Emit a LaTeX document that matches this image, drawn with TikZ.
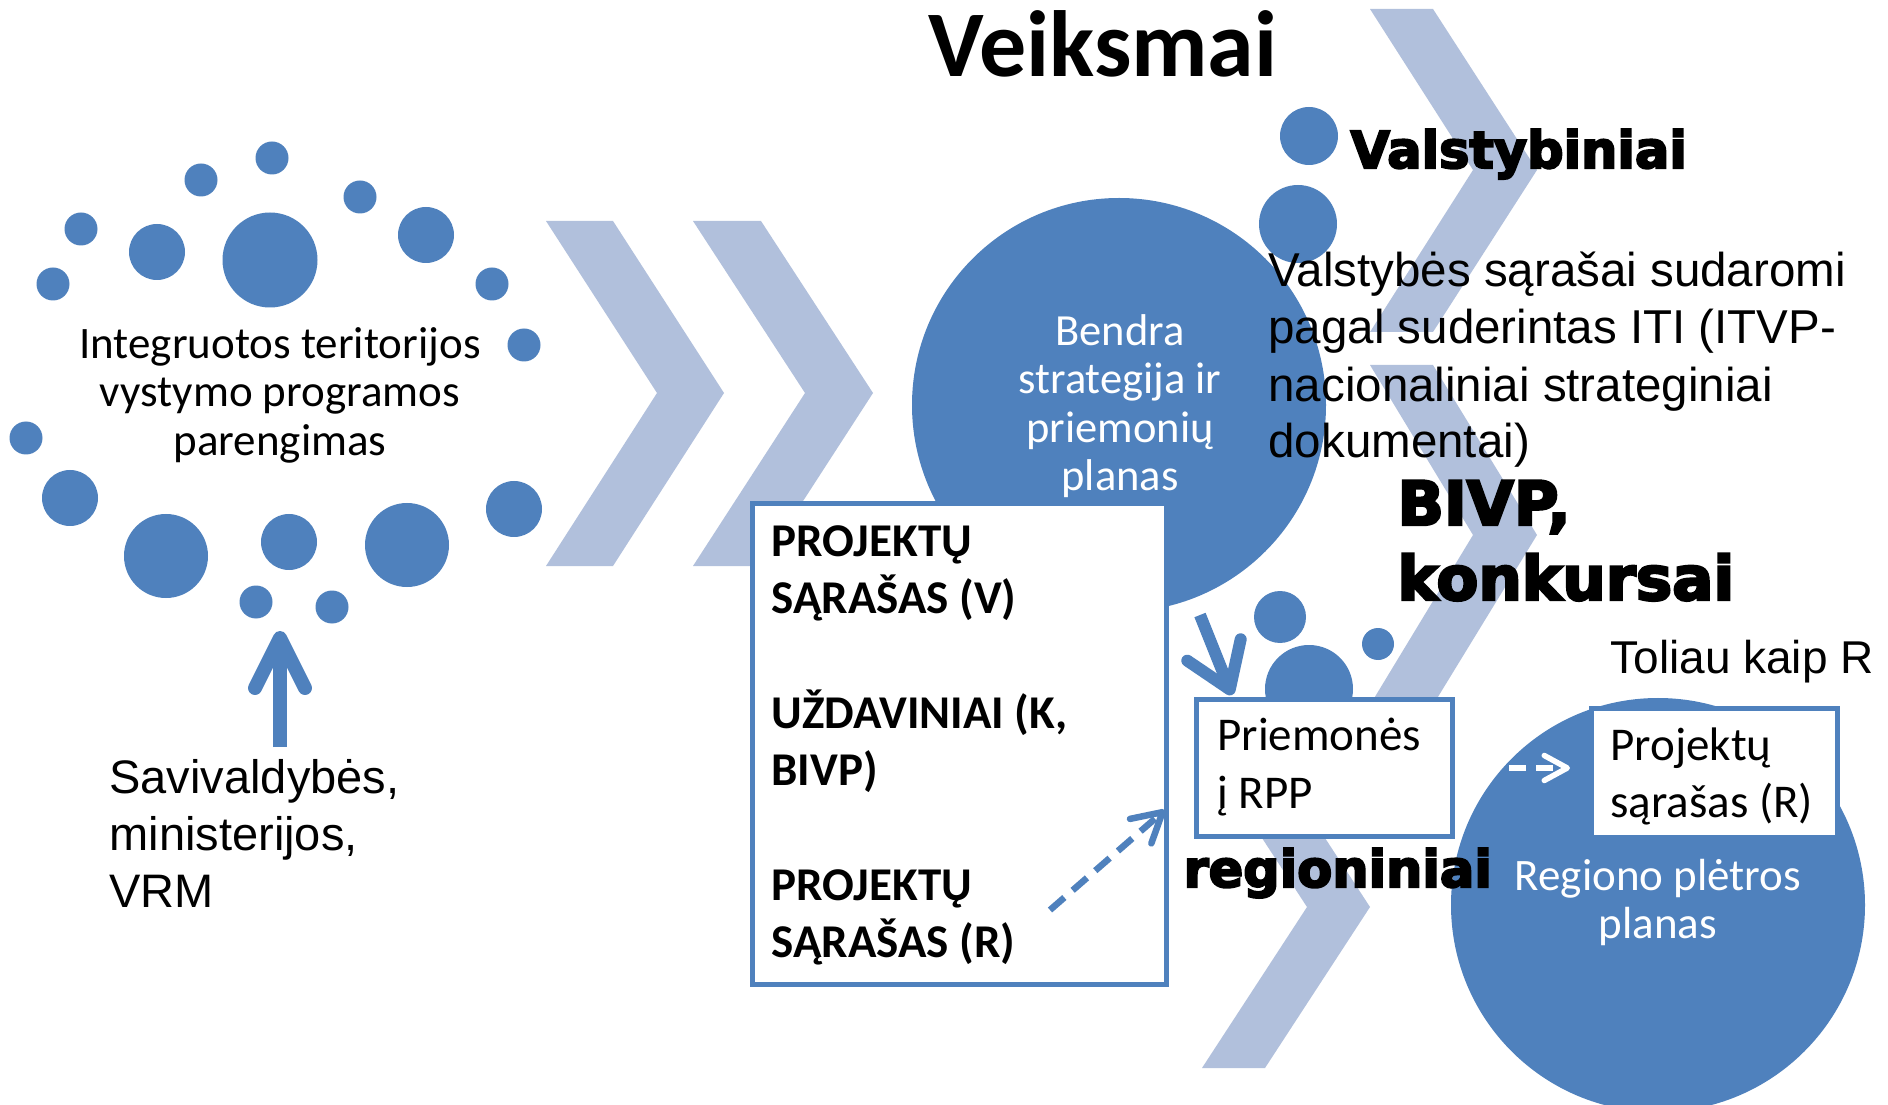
\documentclass[tikz,border=0pt]{standalone}
\usepackage{fontspec}
\setmainfont{Carlito}
\newfontfamily\cali{Carlito}
\newfontfamily\arialf{Liberation Sans}
\newfontfamily\heavyf{DejaVu Sans}[BoldFeatures={FakeBold=4}]
\usetikzlibrary{arrows.meta}
\definecolor{dotblue}{HTML}{4F81BD}
\definecolor{chevblue}{HTML}{B1C0DC}
\tikzset{
  dotfill/.style={fill=dotblue},
  chevfill/.style={fill=chevblue},
  frame/.style={draw=dotblue, line width=2pt, fill=white, inner sep=0pt},
  bigcirc/.style={circle, fill=dotblue, inner sep=0pt, minimum size=165.6pt},
  lbl/.style={inner sep=0pt, anchor=base west},
  clbl/.style={inner sep=0pt, anchor=base},
  rad/.style={radius=#1*0.4pt},
  thickarrow/.style={draw=dotblue, line width=#1},
}
\begin{document}
\begin{tikzpicture}[x=0.4pt,y=-0.4pt]
\useasboundingbox (0,0) rectangle (1888,1105);
\clip (0,0) rectangle (1888,1105);
\fill[white] (0,0) rectangle (1888,1105);

% left chevrons
\fill[chevfill] (546,221) -- (613,221) -- (724,393) -- (613,566) -- (546,566) -- (657,393) -- cycle;
\fill[chevfill] (693,221) -- (761,221) -- (873,393) -- (761,566) -- (693,566) -- (805,393) -- cycle;

% right chevrons
\fill[chevfill] (1370,9) -- (1433,9) -- (1537,170) -- (1433,332) -- (1370,332) -- (1473,170) -- cycle;
\fill[chevfill] (1370,365) -- (1433,365) -- (1537,535) -- (1433,705) -- (1370,705) -- (1473,535) -- cycle;
\fill[chevfill] (1202,746) -- (1265,746) -- (1370,907) -- (1265,1068) -- (1202,1068) -- (1307,907) -- cycle;

% dot cluster
\fill[dotfill] (270,260) circle[rad=47.5];
\fill[dotfill] (272,158) circle[rad=16.5];
\fill[dotfill] (201,180) circle[rad=16.5];
\fill[dotfill] (360,197) circle[rad=16.5];
\fill[dotfill] (426,235) circle[rad=28];
\fill[dotfill] (157,252) circle[rad=28];
\fill[dotfill] (81,229) circle[rad=16.5];
\fill[dotfill] (53,284) circle[rad=16.5];
\fill[dotfill] (492,284) circle[rad=16.5];
\fill[dotfill] (524,345) circle[rad=16.5];
\fill[dotfill] (26,438) circle[rad=16.5];
\fill[dotfill] (70,498) circle[rad=28];
\fill[dotfill] (166,556) circle[rad=42];
\fill[dotfill] (289,542) circle[rad=28];
\fill[dotfill] (407,545) circle[rad=42];
\fill[dotfill] (514,509) circle[rad=28];
\fill[dotfill] (256,602) circle[rad=16.5];
\fill[dotfill] (332,607) circle[rad=16.5];

% main circles
\node[bigcirc] (bendra) at (1119,405) {};
\node[bigcirc] (regiono) at (1658,905) {};

% dots near Valstybiniai
\fill[dotfill] (1309,136) circle[rad=29];
\fill[dotfill] (1298,224) circle[rad=39];

% person icon
\fill[dotfill] (1280,617) circle[rad=26];
\fill[dotfill] (1309,689) circle[rad=44];
\fill[dotfill] (1378,644) circle[rad=16];

% arrow from Bendra circle to Priemones box
\coordinate (bArrS) at (1200,615);
\coordinate (bArrE) at (1232,695);
\draw[thickarrow=4.8pt, -{Straight Barb[length=17pt,width=23pt,round]}] (bArrS) -- (bArrE);

% boxes
\node[frame, minimum width=165.6pt, minimum height=192pt] (plist) at (959,744) {};
\node[frame, minimum width=102.4pt, minimum height=54.8pt] (priem) at (1324.5,768) {};
\node[frame, minimum width=98.4pt, minimum height=51.6pt] (projR) at (1714.5,773) {};

% dashed arrow inside list box
\coordinate (dS) at (1050,910);
\coordinate (dE) at (1165,810);
\draw[thickarrow=2.6pt, dash pattern=on 7.6pt off 4.4pt, -{Straight Barb[length=11.6pt,width=13pt,round]}] (dS) -- (dE);

% white dashed arrow
\coordinate (wE) at (1570,768);
\draw[draw=white, line width=2.2pt, dash pattern=on 6.8pt off 4pt, -{Straight Barb[length=9.2pt,width=10pt,round]}] (priem.east) -- (wE);

% up arrow
\coordinate (upS) at (280,747);
\coordinate (upE) at (280,631);
\draw[thickarrow=5.6pt, -{Straight Barb[length=20pt,width=20pt,round]}] (upS) -- (upE);

% texts
\node[clbl] (integ) at (280,359) {\parbox[t]{300pt}{\centering\cali\fontsize{18}{19.2}\selectfont Integruotos teritorijos\\vystymo programos\\parengimas}};
\node[lbl] (veik) at (928,77) {\cali\bfseries\fontsize{37.6}{40}\selectfont Veiksmai};
\node[lbl] (valst) at (1350,168) {\heavyf\bfseries\fontsize{20.4}{24}\selectfont Valstybiniai};
\node[lbl] (valsT) at (1268,287) {\parbox[t]{300pt}{\raggedright\arialf\fontsize{19}{22.8}\selectfont Valstybės sąrašai sudaromi\\pagal suderintas ITI (ITVP-\\nacionaliniai strateginiai\\dokumentai)}};
\node[lbl] (bivp) at (1397,525) {\parbox[t]{200pt}{\raggedright\heavyf\bfseries\fontsize{24.4}{30}\selectfont BIVP,\\konkursai}};
\node[lbl] (toliau) at (1610,673) {\arialf\fontsize{18.4}{22}\selectfont Toliau kaip R};
\node[clbl, text=white] (bendraT) at (1120,346) {\parbox[t]{200pt}{\centering\cali\fontsize{17.8}{19.2}\selectfont Bendra\\strategija ir\\priemonių\\planas}};
\node[lbl] (plistT) at (771,556) {\parbox[t]{160pt}{\raggedright\cali\bfseries\fontsize{18.8}{22.96}\selectfont PROJEKTŲ\\SĄRAŠAS (V)\\\mbox{}\\UŽDAVINIAI (K,\\BIVP)\\\mbox{}\\PROJEKTŲ\\SĄRAŠAS (R)}};
\node[lbl] (priemT) at (1217,750) {\parbox[t]{100pt}{\raggedright\cali\fontsize{18.8}{23.2}\selectfont Priemonės\\į RPP}};
\node[lbl] (regT) at (1183,887) {\heavyf\bfseries\fontsize{20.4}{24}\selectfont regioniniai};
\node[lbl] (projRT) at (1610,760) {\parbox[t]{100pt}{\raggedright\cali\fontsize{18.8}{22.8}\selectfont Projektų\\sąrašas (R)}};
\node[clbl, text=white] (regionoT) at (1658,890) {\parbox[t]{200pt}{\centering\cali\fontsize{18}{19.2}\selectfont Regiono plėtros\\planas}};
\node[lbl] (savi) at (109,793) {\parbox[t]{200pt}{\raggedright\arialf\fontsize{18.8}{22.8}\selectfont Savivaldybės,\\ministerijos,\\VRM}};
\end{tikzpicture}
\end{document}
